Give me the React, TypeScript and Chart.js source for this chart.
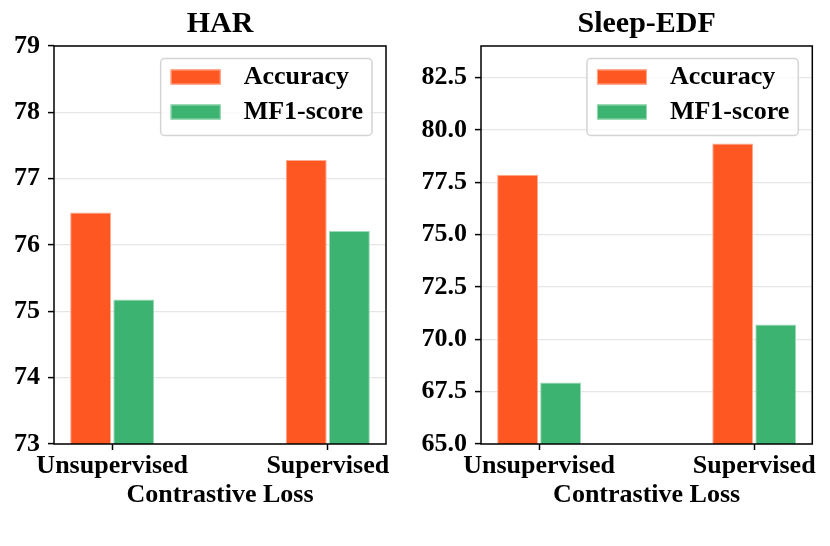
import React, { useEffect, useRef } from "react";
import { Chart, registerables } from "chart.js";

Chart.register(...registerables);

const methods = ["Unsupervised", "Supervised"];
const seriesNames = ["Accuracy", "MF1-score"];

const harAccuracy = [76.49, 77.28];
const harMf1 = [75.18, 76.21];
const harTicks = [73, 74, 75, 76, 77, 78, 79];

const sleepAccuracy = [77.85, 79.35];
const sleepMf1 = [67.94, 70.71];
const sleepTicks = [65, 67.5, 70, 72.5, 75, 77.5, 80, 82.5];

const FONT = "'Liberation Serif', 'Times New Roman', 'DejaVu Serif', serif";
const ORANGE = "#FF5722";
const GREEN = "#3CB371";

// black box round the plot area, like matplotlib spines
const framePlugin = {
  id: "frame",
  afterDatasetsDraw(chart: any) {
    const { ctx, chartArea: a } = chart;
    ctx.save();
    ctx.strokeStyle = "#000";
    ctx.lineWidth = 1.5;
    ctx.strokeRect(a.left, a.top, a.right - a.left, a.bottom - a.top);
    ctx.restore();
  },
};

// legend drawn inside the plot, upper right, with a rounded frame
const boxLegendPlugin = {
  id: "boxLegend",
  afterDraw(chart: any) {
    const { ctx, chartArea: a } = chart;
    const sets = chart.data.datasets;
    ctx.save();
    ctx.font = `bold 26px ${FONT}`;
    const textW = Math.max(...sets.map((d: any) => ctx.measureText(d.label).width));
    const w = 10 + 50 + 23 + textW + 9;
    const h = 77;
    const x = a.right - 14 - w;
    const y = a.top + 12.5;
    ctx.beginPath();
    ctx.roundRect(x, y, w, h, 4);
    ctx.fillStyle = "rgba(255,255,255,0.8)";
    ctx.fill();
    ctx.strokeStyle = "#d4d4d4";
    ctx.lineWidth = 1.5;
    ctx.stroke();
    sets.forEach((d: any, i: number) => {
      const cy = y + 18.5 + i * 35;
      ctx.fillStyle = d.backgroundColor;
      ctx.fillRect(x + 10, cy - 7.5, 50, 15);
      ctx.strokeStyle = d.borderColor;
      ctx.lineWidth = 1;
      ctx.strokeRect(x + 10.5, cy - 7, 49, 14);
      ctx.fillStyle = "#000";
      ctx.textBaseline = "middle";
      ctx.textAlign = "left";
      ctx.fillText(d.label, x + 83, cy);
    });
    ctx.restore();
  },
};

interface PanelProps {
  title: string;
  accuracy: number[];
  mf1: number[];
  yMin: number;
  yMax: number;
  yTicks: number[];
  decimals: number;
  yWidth: number;
  padRight: number;
  left: number;
}

const ChartPanel: React.FC<PanelProps> = ({
  title, accuracy, mf1, yMin, yMax, yTicks, decimals, yWidth, padRight, left,
}) => {
  const canvasRef = useRef<HTMLCanvasElement>(null);

  useEffect(() => {
    const ctx = canvasRef.current?.getContext("2d");
    if (!ctx) return;
    const font = { family: FONT, size: 26, weight: "bold" as const };

    const chart = new Chart(ctx, {
      type: "bar",
      data: {
        datasets: [
          {
            label: seriesNames[0],
            data: accuracy.map((v, i) => ({ x: i, y: v })),
            backgroundColor: ORANGE,
            borderColor: "#ffab91",
            borderWidth: 1,
          },
          {
            label: seriesNames[1],
            data: mf1.map((v, i) => ({ x: i, y: v })),
            backgroundColor: GREEN,
            borderColor: "#9ed9b8",
            borderWidth: 1,
          },
        ],
      },
      options: {
        responsive: true,
        maintainAspectRatio: false,
        animation: false,
        categoryPercentage: 0.4,
        barPercentage: 0.95,
        layout: { padding: { left: 0, right: padRight, top: 0, bottom: 32 } },
        plugins: {
          legend: { display: false },
          tooltip: { enabled: false },
          title: {
            display: true,
            text: title,
            color: "#000",
            fullSize: false,
            font: { family: FONT, size: 30, weight: "bold" },
            padding: { top: 6, bottom: 4 },
          },
        },
        scales: {
          x: {
            type: "linear",
            min: -0.27,
            max: 1.27,
            offset: false,
            afterBuildTicks: (s: any) => {
              s.ticks = methods.map((_, i) => ({ value: i }));
            },
            afterFit: (s: any) => {
              s.height = 70;
            },
            ticks: {
              callback: (_v: any, i: number) => methods[i],
              color: "#000",
              font,
              padding: 1,
              maxRotation: 0,
              autoSkip: false,
            },
            grid: {
              offset: false,
              drawOnChartArea: false,
              tickLength: 6,
              tickColor: "#000",
              tickWidth: 1.5,
            },
            border: { display: false },
            title: {
              display: true,
              text: "Contrastive Loss",
              color: "#000",
              font,
              padding: { top: 0, bottom: 3 },
            },
          },
          y: {
            min: yMin,
            max: yMax,
            afterBuildTicks: (s: any) => {
              s.ticks = yTicks.map((v) => ({ value: v }));
            },
            afterFit: (s: any) => {
              s.width = yWidth;
            },
            ticks: {
              callback: (v: any) => Number(v).toFixed(decimals),
              color: "#000",
              font,
              padding: 8,
            },
            grid: {
              color: "#e6e6e6",
              lineWidth: 1.2,
              tickLength: 6,
              tickColor: "#000",
              tickWidth: 1.5,
            },
            border: { display: false },
          },
        },
      },
      plugins: [framePlugin, boxLegendPlugin],
    });

    return () => chart.destroy();
  }, [title, accuracy, mf1, yMin, yMax, yTicks, decimals, yWidth, padRight]);

  return (
    <div style={{ position: "absolute", left, top: 0, width: 415, height: 546 }}>
      <canvas ref={canvasRef} />
    </div>
  );
};

export default function App() {
  return (
    <div
      style={{
        position: "fixed",
        left: 0,
        top: 0,
        width: 830,
        height: 546,
        background: "#fff",
      }}
    >
      <ChartPanel
        title="HAR"
        accuracy={harAccuracy}
        mf1={harMf1}
        yMin={73}
        yMax={79}
        yTicks={harTicks}
        decimals={0}
        yWidth={54}
        padRight={29}
        left={0}
      />
      <ChartPanel
        title="Sleep-EDF"
        accuracy={sleepAccuracy}
        mf1={sleepMf1}
        yMin={65}
        yMax={84}
        yTicks={sleepTicks}
        decimals={1}
        yWidth={66}
        padRight={17.7}
        left={415}
      />
    </div>
  );
}
